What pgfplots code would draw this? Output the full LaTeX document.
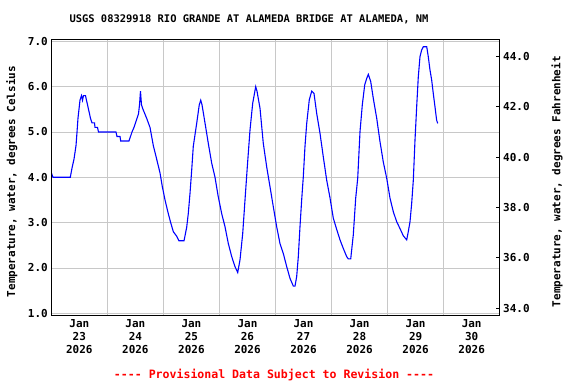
\documentclass[border=0pt]{standalone}
\usepackage{pgfplots}
\pgfplotsset{compat=1.18}
\usepackage{fontspec}
\setmainfont{DejaVu Sans Mono}
\definecolor{gridgray}{RGB}{200,200,200}
\definecolor{usgsblue}{RGB}{0,0,255}
\definecolor{usgsred}{RGB}{255,0,0}
\newcommand{\lblfont}{\bfseries\fontsize{11}{13}\selectfont}
\begin{document}
\begin{tikzpicture}
\useasboundingbox (-51.3bp,-68.3bp) rectangle (524.7bp,315.7bp);
\begin{axis}[
  at={(0,0)}, anchor=south west,
  scale only axis, width=448.4bp, height=276.4bp,
  xmin=0, xmax=8, ymin=0.947, ymax=7.044,
  xtick={1,...,7}, xticklabels={},
  extra x ticks={0.5,1.5,2.5,3.5,4.5,5.5,6.5,7.5},
  extra x tick labels={{Jan\\23\\2026},{Jan\\24\\2026},{Jan\\25\\2026},{Jan\\26\\2026},{Jan\\27\\2026},{Jan\\28\\2026},{Jan\\29\\2026},{Jan\\30\\2026}},
  extra x tick style={grid=none, major tick length=0pt},
  ytick={1,...,7},
  major tick length=0pt,
  grid=major, major grid style={gridgray, line width=0.8bp},
  axis line style={black, line width=0.8bp},
  /pgf/number format/assume math mode=true,
  ticklabel style={font=\lblfont},
  xticklabel style={align=center},
  yticklabel style={/pgf/number format/.cd, fixed, fixed zerofill, precision=1},
  ylabel={Temperature, water, degrees Celsius},
  ylabel style={font=\lblfont, at={(axis description cs:-0.088,0.485)}, anchor=center},
]
\addplot[usgsblue, line width=1.1bp] coordinates {
(0.000,4.1) (0.030,4.0) (0.339,4.0) (0.369,4.2) (0.405,4.4) (0.441,4.7) (0.459,5.0) (0.476,5.3) (0.494,5.5) (0.512,5.7) (0.539,5.8) (0.557,5.7) (0.574,5.8) (0.610,5.8) (0.628,5.7) (0.646,5.6) (0.664,5.5) (0.682,5.4) (0.699,5.3) (0.726,5.2) (0.771,5.2) (0.780,5.1) (0.824,5.1) (0.842,5.0) (1.154,5.0) (1.172,4.9) (1.226,4.9) (1.238,4.8) (1.386,4.8) (1.413,4.9) (1.440,5.0) (1.475,5.1) (1.502,5.2) (1.529,5.3) (1.556,5.4) (1.574,5.6) (1.591,5.9) (1.609,5.6) (1.636,5.5) (1.702,5.3) (1.761,5.1) (1.820,4.7) (1.880,4.4) (1.939,4.1) (1.980,3.8) (2.029,3.5) (2.087,3.2) (2.130,3.0) (2.177,2.8) (2.237,2.7) (2.278,2.6) (2.368,2.6) (2.416,2.9) (2.444,3.2) (2.475,3.65) (2.505,4.16) (2.533,4.68) (2.594,5.19) (2.640,5.6) (2.666,5.7) (2.689,5.6) (2.742,5.2) (2.801,4.75) (2.862,4.31) (2.921,4.0) (2.979,3.57) (3.040,3.2) (3.099,2.91) (3.158,2.54) (3.219,2.25) (3.277,2.03) (3.326,1.9) (3.367,2.18) (3.415,2.76) (3.456,3.5) (3.497,4.23) (3.545,5.04) (3.593,5.63) (3.647,6.0) (3.670,5.9) (3.724,5.52) (3.782,4.75) (3.843,4.23) (3.902,3.79) (3.961,3.35) (4.021,2.91) (4.080,2.54) (4.139,2.32) (4.200,2.03) (4.259,1.77) (4.318,1.6) (4.348,1.6) (4.378,1.81) (4.407,2.25) (4.437,2.91) (4.467,3.5) (4.496,4.01) (4.526,4.68) (4.557,5.19) (4.603,5.71) (4.646,5.9) (4.687,5.85) (4.735,5.41) (4.794,4.97) (4.853,4.45) (4.913,3.94) (4.972,3.55) (5.031,3.1) (5.092,2.85) (5.151,2.62) (5.210,2.43) (5.270,2.25) (5.299,2.2) (5.342,2.2) (5.388,2.73) (5.431,3.54) (5.467,3.98) (5.508,5.01) (5.549,5.6) (5.592,6.04) (5.627,6.18) (5.656,6.27) (5.699,6.11) (5.745,5.74) (5.806,5.3) (5.864,4.79) (5.923,4.34) (5.984,3.98) (6.043,3.54) (6.102,3.24) (6.162,3.02) (6.221,2.87) (6.280,2.71) (6.341,2.62) (6.369,2.8) (6.400,3.02) (6.430,3.43) (6.459,3.94) (6.489,4.82) (6.519,5.56) (6.548,6.22) (6.578,6.66) (6.608,6.81) (6.637,6.88) (6.698,6.88) (6.726,6.66) (6.756,6.37) (6.786,6.15) (6.815,5.85) (6.845,5.56) (6.875,5.26) (6.894,5.19)
};
\end{axis}
\begin{axis}[
  at={(0,0)}, anchor=south west,
  scale only axis, width=448.4bp, height=276.4bp,
  xmin=0, xmax=8, ymin=33.705, ymax=44.679,
  hide x axis,
  ytick={34,36,38,40,42,44},
  ytick pos=right, tick align=inside,
  major tick length=4bp,
  tick style={black, line width=0.8bp},
  axis line style={black, line width=0.8bp},
  /pgf/number format/assume math mode=true,
  ticklabel style={font=\lblfont},
  yticklabel style={/pgf/number format/.cd, fixed, fixed zerofill, precision=1},
  ylabel={Temperature, water, degrees Fahrenheit},
  ylabel style={font=\lblfont, at={(axis description cs:1.128,0.485)}, anchor=center, rotate=0},
]
\addplot[draw=none] coordinates {(0,40)};
\end{axis}
\node[font=\bfseries\fontsize{10.5}{12}\selectfont] at (197.7bp,296.7bp) {USGS 08329918 RIO GRANDE AT ALAMEDA BRIDGE AT ALAMEDA, NM};
\node[font=\bfseries\fontsize{11.6}{13}\selectfont, text=usgsred] at (222.7bp,-59.3bp) {{-}{-}{-}{-} Provisional Data Subject to Revision {-}{-}{-}{-}};
\end{tikzpicture}
\end{document}
